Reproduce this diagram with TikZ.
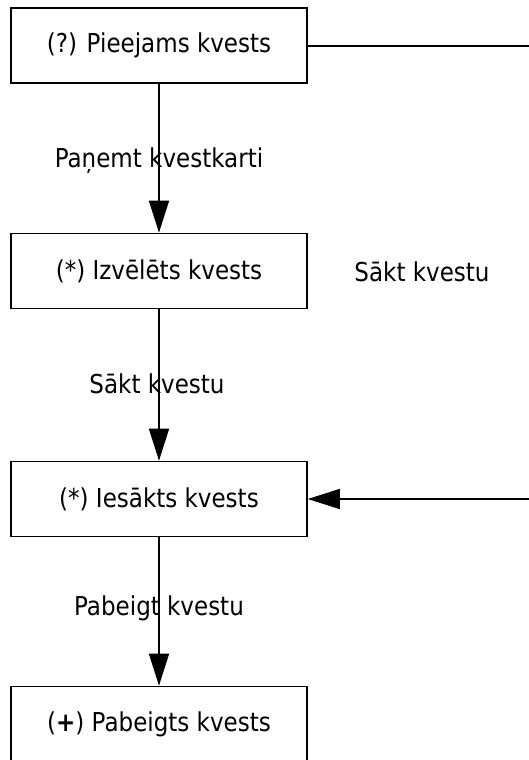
\documentclass[tikz,border=0pt]{standalone}
\usepackage{fontspec}
\setmainfont{DejaVu Sans}[FakeStretch=0.885]
\usetikzlibrary{arrows.meta}
\tikzset{
  box/.style={draw, line width=1.6bp, minimum width=296bp, minimum height=75bp, inner sep=0pt, font=\fontsize{26bp}{30bp}\selectfont},
  lbl/.style={inner sep=0pt, font=\fontsize{26bp}{30bp}\selectfont},
  arr/.style={line width=1.4bp, -{Triangle[length=32bp, width=20bp]}},
  conn/.style={line width=1.4bp}
}
\begin{document}
\begin{tikzpicture}[x=1bp, y=-1bp]
\useasboundingbox (0,0) rectangle (529,760);
\clip (0,0) rectangle (529,760);
\node[box] (a) at (159,45.5) {(?) Pieejams kvests};
\node[box] (b) at (159,271) {(*) Izvēlēts kvests};
\node[box] (c) at (159,499) {(*) Iesākts kvests};
\node[box] (d) at (159,724) {(\textbf{+}) Pabeigts kvests};
\draw[arr] (a) -- (b);
\draw[arr] (b) -- (c);
\draw[arr] (c) -- (d);
\coordinate (r1) at (580,46);
\coordinate (r3) at (580,499);
\draw[conn] (a.east |- r1) -- (r1) -- (r3);
\draw[arr] (r3) -- (c.east);
\node[lbl] (l1) at (159,161) {Paņemt kvestkarti};
\node[lbl] (l2) at (157,384) {Sākt kvestu};
\node[lbl] (l3) at (159,608) {Pabeigt kvestu};
\node[lbl] (l4) at (422,272) {Sākt kvestu};
\end{tikzpicture}
\end{document}
